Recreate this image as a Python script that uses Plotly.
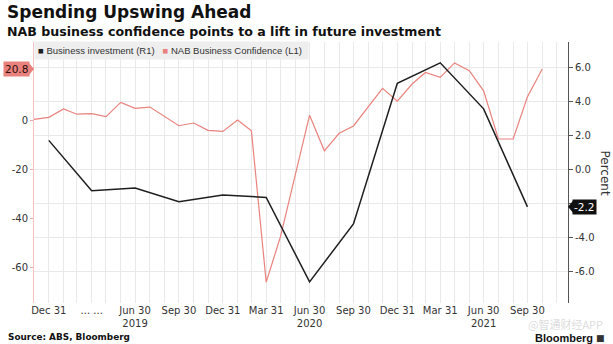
import pandas as pd
import plotly.graph_objects as go

# NAB business confidence, monthly (left axis, index)
conf_dates = pd.date_range("2018-11-30", periods=36, freq="ME")
conf_values = [0.3, 1.1,
               4.5, 2.4, 2.6, 1.4, 7.2, 4.8, 5.3, 1.6, -2.3, -1.2, -4.2, -4.6,
               0.0, -4.4, -66.0, -47.5, -22.0, 2.0, -12.5, -5.4, -2.4, 5.4, 12.9, 7.7,
               14.7, 19.4, 17.4, 23.3, 20.1, 11.9, -7.7, -7.7, 9.5, 20.8]

# Business investment, quarterly (right axis, percent)
inv_dates = pd.date_range("2018-12-31", periods=12, freq="QE")
inv_values = [1.7, -1.25, -1.1, -1.9, -1.5, -1.65, -6.6, -3.2, 5.05, 6.25, 3.55, -2.2]

# Quarter-end tick labels
tick_dates = list(inv_dates)
tick_text = ["Dec 31", "... ...", "Jun 30<br>2019", "Sep 30", "Dec 31", "Mar 31",
             "Jun 30<br>2020", "Sep 30", "Dec 31", "Mar 31", "Jun 30<br>2021", "Sep 30"]
grid_dates = pd.date_range("2018-11-30", periods=37, freq="ME")

left_ticks = [0, -20, -40, -60]
right_ticks = [6, 4, 2, 0, -2, -4, -6]

RED = "#e9827d"
BLACK = "#1e1e1e"
TXT = "#333333"
TICKFONT = dict(family="DejaVu Sans", size=10, color=TXT)

last_conf = conf_values[-1]
last_inv = inv_values[-1]

# right-axis labels; the one sitting under the latest-value tag is left blank
right_text = ["" if abs(v - last_inv) < 0.5 else f"{v:.1f}" for v in right_ticks]

fig = go.Figure()
fig.add_trace(go.Scatter(x=conf_dates, y=conf_values, mode="lines",
                         line=dict(color=RED, width=1.2), yaxis="y",
                         showlegend=False, hoverinfo="skip"))
fig.add_trace(go.Scatter(x=inv_dates, y=inv_values, mode="lines",
                         line=dict(color=BLACK, width=1.5), yaxis="y2",
                         showlegend=False, hoverinfo="skip"))

fig.update_layout(
    width=613, height=344,
    margin=dict(l=30, r=45, t=42, b=41),
    paper_bgcolor="white", plot_bgcolor="white",
    xaxis=dict(
        type="date", range=["2018-11-30", "2021-12-24"],
        tickmode="array", tickvals=tick_dates, ticktext=tick_text,
        tickfont=TICKFONT, ticks="", showline=False, zeroline=False,
        showgrid=True, gridcolor="#e9e9e9", gridwidth=1,
        minor=dict(tickmode="array", tickvals=list(grid_dates),
                   showgrid=True, gridcolor="#e9e9e9", gridwidth=1),
    ),
    yaxis=dict(
        range=[-74.5, 31.8], tickmode="array", tickvals=left_ticks,
        ticktext=[str(v) for v in left_ticks],
        tickfont=TICKFONT, ticks="outside", ticklen=3, tickcolor="#f0a8a4",
        showline=True, linecolor="#f3c4c1", linewidth=1,
        showgrid=False, zeroline=False,
    ),
    yaxis2=dict(
        range=[-7.84, 7.47], overlaying="y", side="right",
        tickmode="array", tickvals=right_ticks, ticktext=right_text,
        tickfont=TICKFONT, ticks="outside", ticklen=4, tickcolor="#555555",
        showline=True, linecolor="#555555", linewidth=1,
        showgrid=True, gridcolor="#e9e9e9", gridwidth=1, zeroline=False,
    ),
    showlegend=False,
)

# Value tags for the latest readings
fig.add_annotation(xref="paper", x=0, xanchor="right", xshift=-4,
                   yref="y", y=last_conf, text=f"{last_conf:.1f}", showarrow=False,
                   bgcolor=RED, borderpad=1,
                   font=dict(family="DejaVu Sans", size=10.5, color="#2a0d0c"))
fig.add_shape(type="path", xref="paper", xsizemode="pixel", xanchor=0,
              yref="y", ysizemode="pixel", yanchor=last_conf,
              path="M-5,-6 L0,0 L-5,6 Z", fillcolor=RED, line=dict(width=0))
fig.add_annotation(xref="paper", x=1, xanchor="left", xshift=4,
                   yref="y2", y=last_inv, text=f"{last_inv:.1f}", showarrow=False,
                   bgcolor="#111111", borderpad=1,
                   font=dict(family="DejaVu Sans", size=10.5, color="white"))
fig.add_shape(type="path", xref="paper", xsizemode="pixel", xanchor=1,
              yref="y2", ysizemode="pixel", yanchor=last_inv,
              path="M5,-6 L0,0 L5,6 Z", fillcolor="#111111", line=dict(width=0))

# Legend strip
fig.add_annotation(
    xref="paper", x=0, xanchor="left", yref="paper", y=1, yanchor="top", yshift=1,
    text=(f"<span style='color:{BLACK}'>■</span> Business investment (R1)   "
          f"<span style='color:{RED}'>■</span> NAB Business Confidence (L1) "),
    showarrow=False, align="left", borderpad=3,
    bgcolor="#eeeeee", font=dict(family="Liberation Sans", size=9.5, color=TXT))

# Axis title on the right
fig.add_annotation(xref="paper", x=1, xshift=37, xanchor="center",
                   yref="paper", y=0.5, yanchor="middle", text="Percent",
                   textangle=90, showarrow=False,
                   font=dict(family="DejaVu Sans", size=12, color=TXT))

# Headline, subtitle, footer
fig.add_annotation(xref="paper", x=0, xshift=-29, xanchor="left",
                   yref="paper", y=1, yshift=30.5, yanchor="middle",
                   text="<b>Spending Upswing Ahead</b>", showarrow=False,
                   font=dict(family="DejaVu Sans", size=17, color="#111111"))
fig.add_annotation(xref="paper", x=0, xshift=-29, xanchor="left",
                   yref="paper", y=1, yshift=11, yanchor="middle",
                   text="<b>NAB business confidence points to a lift in future investment</b>",
                   showarrow=False,
                   font=dict(family="DejaVu Sans", size=12.6, color="#111111"))
fig.add_annotation(xref="paper", x=0, xshift=-28, xanchor="left",
                   yref="paper", y=0, yshift=-34, yanchor="middle",
                   text="<b>Source: ABS, Bloomberg</b>", showarrow=False,
                   font=dict(family="DejaVu Sans", size=8.9, color="#111111"))
fig.add_annotation(xref="paper", x=1, xshift=27, xanchor="right",
                   yref="paper", y=0, yshift=-35, yanchor="middle",
                   text="<b>Bloomberg</b>", showarrow=False,
                   font=dict(family="Liberation Sans", size=11, color="#111111"))
fig.add_annotation(xref="paper", x=1, xshift=39, xanchor="right",
                   yref="paper", y=0, yshift=-35, yanchor="middle",
                   text="■", showarrow=False,
                   font=dict(family="DejaVu Sans", size=9, color="#333333"))
fig.add_annotation(xref="paper", x=1, xshift=37, xanchor="right",
                   yref="paper", y=0, yshift=-20.5, yanchor="middle",
                   text="@智通财经APP", showarrow=False,
                   font=dict(family="Noto Sans CJK SC", size=11, color="rgba(190,190,190,0.55)"))

fig.write_html("out.html")
